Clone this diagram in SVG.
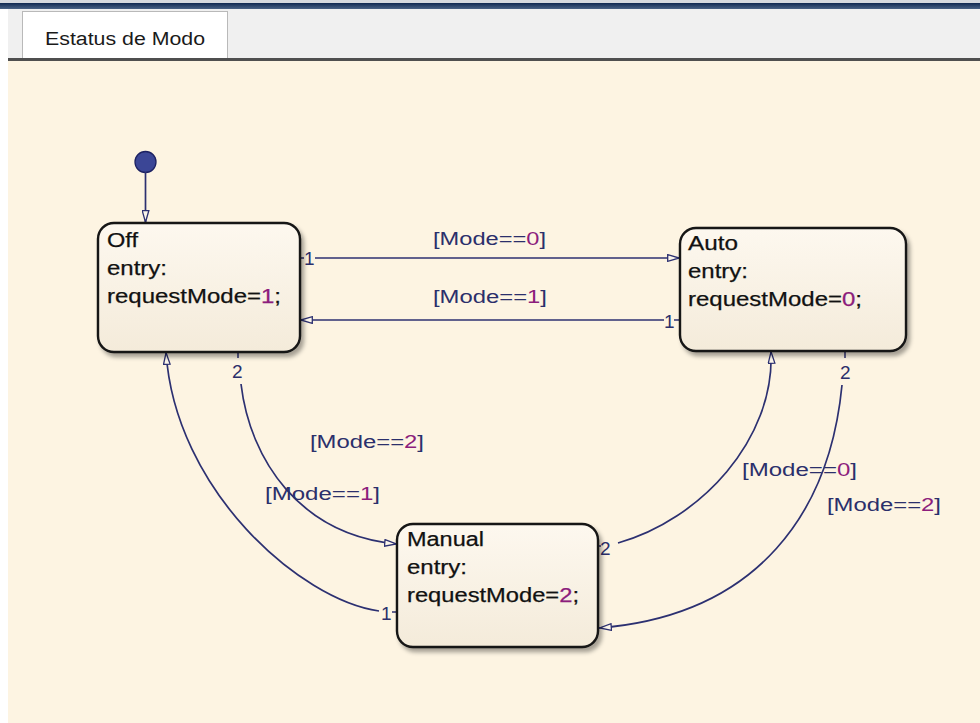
<svg xmlns="http://www.w3.org/2000/svg" width="980" height="723" viewBox="0 0 980 723">
  <style>
    .state-box { fill: url(#stateFill); stroke: #141414; stroke-width: 2.4; filter: url(#shadow); }
    .state-text { font-family: "Liberation Sans", Arial, sans-serif; font-size: 20px; fill: #111; stroke: #111; stroke-width: 0.25; }
    .num { fill: #8c1d7c; stroke: #8c1d7c; }
    .wire { fill: none; stroke: #2c3071; stroke-width: 1.7; }
    .tick { fill: none; stroke: #2c3071; stroke-width: 1.5; }
    .guard { font-family: "Liberation Sans", Arial, sans-serif; font-size: 17.5px; fill: #2b2f6b; }
    .guard .num { stroke: none; }
    .order { font-family: "Liberation Sans", Arial, sans-serif; font-size: 19px; fill: #2b2f6b; }
  </style>
  <defs>
    <linearGradient id="stateFill" x1="0" y1="0" x2="0" y2="1">
      <stop offset="0" stop-color="#fdf8ef"/>
      <stop offset="1" stop-color="#f4ebda"/>
    </linearGradient>
    <linearGradient id="topBar" x1="0" y1="0" x2="0" y2="1">
      <stop offset="0" stop-color="#0f2850"/>
      <stop offset="1" stop-color="#4a6386"/>
    </linearGradient>
    <filter id="shadow" x="-10%" y="-10%" width="130%" height="130%">
      <feDropShadow dx="3" dy="4" stdDeviation="2.2" flood-color="#000" flood-opacity="0.35"/>
    </filter>
    <marker id="openArrow" viewBox="0 0 13 8" refX="13" refY="4" markerWidth="13" markerHeight="8" markerUnits="userSpaceOnUse" orient="auto">
      <path d="M0.7,0.7 L12.3,4 L0.7,7.3 Z" fill="#fbf5ea" stroke="#2c3071" stroke-width="1.3"/>
    </marker>
  </defs>

  <!-- window chrome -->
  <rect x="0" y="0" width="980" height="723" fill="#ffffff"/>
  <rect x="0" y="0" width="980" height="3" fill="#d6d9de"/>
  <rect x="0" y="3" width="980" height="6" fill="url(#topBar)"/>
  <rect x="8" y="9" width="972" height="50" fill="#f0f0f0"/>
  <rect x="0" y="9" width="8" height="714" fill="#ffffff"/>
  <rect x="22.5" y="11.5" width="205" height="48" fill="#ffffff" stroke="#b9b9b9" stroke-width="1"/>
  <text x="45" y="45" font-family="Liberation Sans, Arial, sans-serif" font-size="18" fill="#1a1a1a" textLength="160" lengthAdjust="spacingAndGlyphs">Estatus de Modo</text>
  <rect x="8" y="58" width="972" height="3" fill="#4f4f4f"/>

  <!-- chart canvas -->
  <rect x="8" y="61" width="972" height="662" fill="#fdf4e2"/>

  <!-- transitions -->
  <g id="connectors">
    <!-- default transition -->
    <circle cx="145.5" cy="162" r="10.5" fill="#3b4696" stroke="#1d2263" stroke-width="1.3"/>
    <line class="wire" x1="145.5" y1="172" x2="145.5" y2="223" marker-end="url(#openArrow)"/>

    <!-- Off -> Auto -->
    <line class="tick" x1="300" y1="258" x2="304" y2="258"/>
    <text class="order" x="304" y="265">1</text>
    <line class="wire" x1="315" y1="258" x2="680" y2="258" stroke="#3b3f7e" stroke-width="2" marker-end="url(#openArrow)"/>
    <text class="guard" x="433" y="245" textLength="113" lengthAdjust="spacingAndGlyphs">[Mode==<tspan class="num">0</tspan>]</text>

    <!-- Auto -> Off -->
    <line class="tick" x1="674" y1="320" x2="680" y2="320"/>
    <text class="order" x="664" y="328">1</text>
    <line class="wire" x1="664" y1="320" x2="300" y2="320" marker-end="url(#openArrow)"/>
    <text class="guard" x="433" y="303" textLength="114" lengthAdjust="spacingAndGlyphs">[Mode==<tspan class="num">1</tspan>]</text>

    <!-- Off -> Manual -->
    <line class="tick" x1="238" y1="352" x2="238" y2="358"/>
    <text class="order" x="232" y="378">2</text>
    <path class="wire" d="M241,384 C250,460 300,535 397,544" marker-end="url(#openArrow)"/>
    <text class="guard" x="310" y="448" textLength="114" lengthAdjust="spacingAndGlyphs">[Mode==<tspan class="num">2</tspan>]</text>

    <!-- Manual -> Off -->
    <line class="tick" x1="392" y1="612" x2="397" y2="612"/>
    <text class="order" x="381" y="620">1</text>
    <path class="wire" d="M379,611 C300,600 175,490 166,352" marker-end="url(#openArrow)"/>
    <text class="guard" x="265" y="500" textLength="115" lengthAdjust="spacingAndGlyphs">[Mode==<tspan class="num">1</tspan>]</text>

    <!-- Manual -> Auto -->
    <line class="tick" x1="598" y1="546" x2="601" y2="546"/>
    <text class="order" x="600" y="555">2</text>
    <path class="wire" d="M618,543 C700,520 775,440 771,351" marker-end="url(#openArrow)"/>
    <text class="guard" x="742" y="476" textLength="115" lengthAdjust="spacingAndGlyphs">[Mode==<tspan class="num">0</tspan>]</text>

    <!-- Auto -> Manual -->
    <line class="tick" x1="845" y1="351" x2="845" y2="358"/>
    <text class="order" x="840" y="379">2</text>
    <path class="wire" d="M842,385 C830,510 760,615 599,628" marker-end="url(#openArrow)"/>
    <text class="guard" x="827" y="511" textLength="114" lengthAdjust="spacingAndGlyphs">[Mode==<tspan class="num">2</tspan>]</text>
  </g>

  <!-- states -->
  <g id="state-off">
    <rect class="state-box" x="98" y="223" width="202" height="129" rx="16" ry="16"/>
    <text class="state-text" x="107" y="247" textLength="31" lengthAdjust="spacingAndGlyphs">Off</text>
    <text class="state-text" x="107" y="275" textLength="60" lengthAdjust="spacingAndGlyphs">entry:</text>
    <text class="state-text" x="107" y="303" textLength="174" lengthAdjust="spacingAndGlyphs">requestMode=<tspan class="num">1</tspan>;</text>
  </g>

  <g id="state-auto">
    <rect class="state-box" x="680" y="228" width="226" height="123" rx="16" ry="16"/>
    <text class="state-text" x="688" y="250" textLength="50" lengthAdjust="spacingAndGlyphs">Auto</text>
    <text class="state-text" x="688" y="278" textLength="60" lengthAdjust="spacingAndGlyphs">entry:</text>
    <text class="state-text" x="688" y="306" textLength="174" lengthAdjust="spacingAndGlyphs">requestMode=<tspan class="num">0</tspan>;</text>
  </g>

  <g id="state-manual">
    <rect class="state-box" x="397" y="524" width="201" height="123" rx="16" ry="16"/>
    <text class="state-text" x="407" y="546" textLength="77" lengthAdjust="spacingAndGlyphs">Manual</text>
    <text class="state-text" x="407" y="574" textLength="60" lengthAdjust="spacingAndGlyphs">entry:</text>
    <text class="state-text" x="407" y="602" textLength="172" lengthAdjust="spacingAndGlyphs">requestMode=<tspan class="num">2</tspan>;</text>
  </g>
</svg>
